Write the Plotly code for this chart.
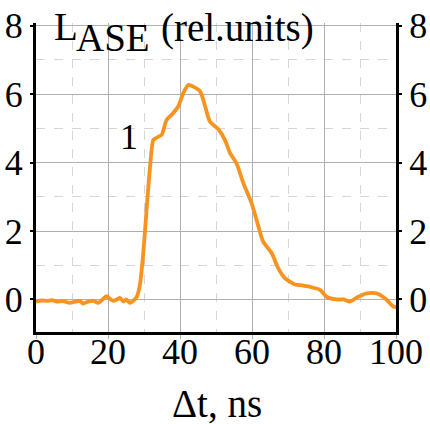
import plotly.graph_objects as go

t_ns = [0, 1.5, 3, 4.5, 5.7, 7.5, 9.4, 11, 12.2, 13.1, 14.5, 15.9, 17.3, 18.5, 19.6, 20.5,
        21.5, 22.5, 23.3, 24.3, 25, 26.1, 27, 28, 28.9, 29.8, 30.7, 31.7, 32.6, 34, 34.9,
        36.3, 37.7, 39.5, 40.9, 42.3, 43.7, 45.6, 47, 48.3, 50.6, 52.5, 53.9, 55.7, 57.6,
        59.9, 61.8, 63.1, 65.5, 67.3, 69.2, 71.9, 73.3, 75.2, 76.1, 78.9, 80.7, 83.5, 85.5,
        87.2, 89.5, 91.9, 94.6, 97, 99.3, 100]
l_ase = [-0.06, -0.03, -0.04, -0.02, -0.06, -0.05, -0.1, -0.06, -0.04, -0.12, -0.06, -0.04,
         -0.1, 0.0, 0.1, 0.02, -0.04, 0.0, 0.05, -0.06, 0.0, -0.1, -0.04, 0.08, 0.45, 1.36,
         2.6, 3.9, 4.66, 4.76, 4.81, 5.25, 5.4, 5.64, 6.03, 6.27, 6.22, 6.08, 5.64, 5.2, 4.98,
         4.66, 4.28, 3.98, 3.4, 2.81, 2.13, 1.69, 1.35, 0.91, 0.62, 0.44, 0.42, 0.39, 0.37,
         0.28, 0.08, 0.0, 0.0, -0.06, 0.08, 0.18, 0.18, 0.03, -0.21, -0.22]

x_ticks = [0, 20, 40, 60, 80, 100]
y_ticks = [0, 2, 4, 6, 8]

FONT = "Liberation Serif"
FS = 36
FT = 39
YR = [-0.95, 8.08]
ML, MR, MT, MB = 36, 34, 23, 92
GRID = "#b0b0b0"
MINOR = "#d6d6d6"

fig = go.Figure()
fig.add_trace(go.Scatter(x=t_ns, y=l_ase, mode="lines",
                         line=dict(color="#F7931E", width=3.8, shape="spline", smoothing=0.6),
                         showlegend=False, hoverinfo="skip"))
fig.add_trace(go.Scatter(x=[None], y=[None], yaxis="y2", showlegend=False, hoverinfo="skip"))

fig.update_layout(
    width=430, height=424,
    margin=dict(l=ML, r=MR, t=MT, b=MB, autoexpand=False),
    paper_bgcolor="white", plot_bgcolor="white",
    font=dict(family=FONT, size=FS, color="black"),
    xaxis=dict(range=[0, 100], tickvals=x_ticks, showline=True, linecolor="black", linewidth=3,
               showgrid=True, gridcolor=GRID, gridwidth=1, zeroline=False,
               ticks="outside", ticklen=4, tickwidth=1, tickcolor=GRID,
               ticklabelstandoff=-18, automargin=False,
               tickfont=dict(family=FONT, size=FS),
               minor=dict(dtick=10, tick0=0, showgrid=True, gridcolor=MINOR,
                          griddash="dash", gridwidth=1)),
    yaxis=dict(range=YR, tickvals=y_ticks, showline=True, linecolor="black", linewidth=3,
               showgrid=True, gridcolor=GRID, gridwidth=1, zeroline=False,
               ticks="outside", ticklen=3, tickwidth=2, tickcolor="black", ticklabelstandoff=0,
               automargin=False, tickfont=dict(family=FONT, size=FS),
               minor=dict(dtick=1, tick0=0, showgrid=True, gridcolor=MINOR,
                          griddash="dash", gridwidth=1)),
    yaxis2=dict(range=YR, tickvals=y_ticks, overlaying="y", side="right", anchor="x",
                showline=True, linecolor="black", linewidth=3, showgrid=False, zeroline=False,
                ticks="outside", ticklen=3, tickwidth=2, tickcolor="black", ticklabelstandoff=0,
                automargin=False, tickfont=dict(family=FONT, size=FS)),
)


def px_ann(text, x, y, xanchor="left", yanchor="middle", size=FS):
    pw = 430 - ML - MR
    ph = 424 - MT - MB
    fig.add_annotation(text=text, x=(x - ML) / pw, y=(424 - MB - y) / ph,
                       xref="paper", yref="paper", showarrow=False,
                       xanchor=xanchor, yanchor=yanchor, font=dict(size=size, family=FONT))


px_ann("L", 52, 27, size=FT)
px_ann("ASE", 74, 38, size=FT)
px_ann("(rel.units)", 159, 28, size=FT)
px_ann("1", 129, 137, xanchor="center")
px_ann("Δt, ns", 217, 403, xanchor="center", size=FT)

fig.write_html("out.html", config={"displayModeBar": False},
               post_script="document.body.style.margin='0';")
